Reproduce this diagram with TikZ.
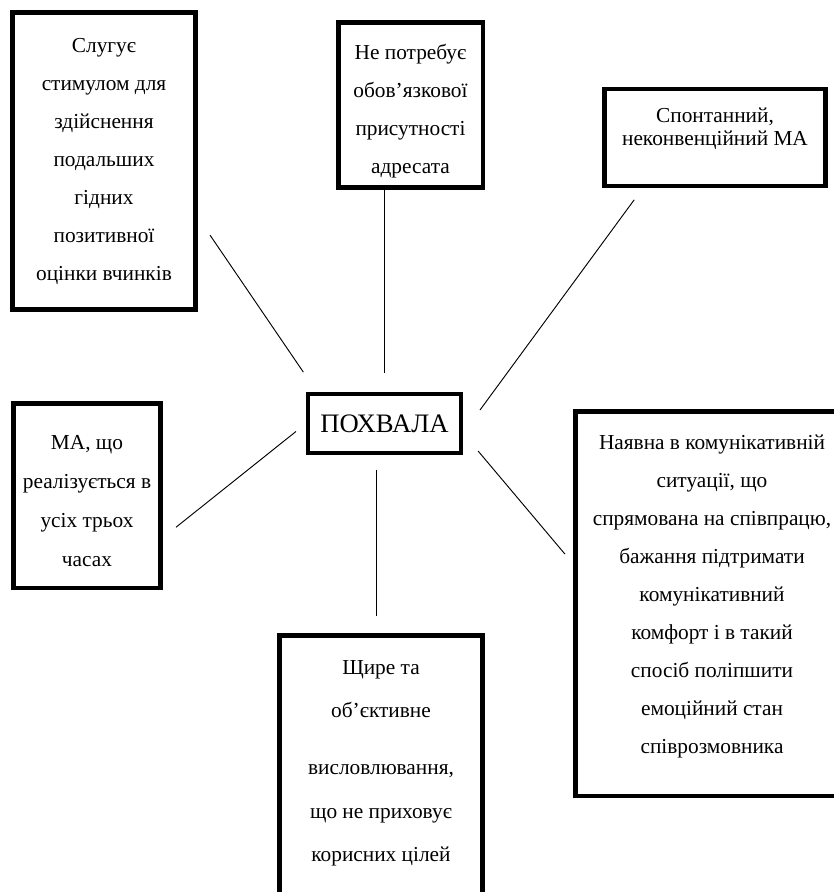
\documentclass[tikz,border=0pt]{standalone}
\usepackage{fontspec}
\setmainfont{Liberation Serif}
\usetikzlibrary{positioning}

\begin{document}
\begin{tikzpicture}[x=0.75pt,y=-0.75pt,
		box/.style={draw, line width=3.4pt, align=center, inner sep=0pt,
			font=\fontsize{16pt}{28.5pt}\selectfont},
		link/.style={line width=0.7pt}]
		\useasboundingbox (0,0) rectangle (833,892);
		% centre
		\node[box, line width=3pt, minimum width=114.8pt, minimum height=44.3pt,
			font=\fontsize{20pt}{22pt}\selectfont] (praise) at (384.5,423.5) {ПОХВАЛА};
		% boxes round it
		\node[box, minimum width=137.6pt, minimum height=223.1pt] (stimul) at (104,161)
			{Слугує\\стимулом для\\здійснення\\подальших\\гідних\\позитивної\\оцінки вчинків};
		\node[box, minimum width=108.4pt, minimum height=124.1pt] (addressee) at (410.5,105)
			{\rule{0pt}{20pt}Не потребує\\обов’язкової\\присутності\\адресата};
		\node[box, minimum width=166.1pt, minimum height=72.4pt,
			font=\fontsize{16pt}{17.5pt}\selectfont] (spont) at (715,137.5)
			{Спонтанний,\\неконвенційний МА\rule[-16pt]{0pt}{0pt}};
		\node[box, minimum width=110.6pt, minimum height=138.4pt,
			font=\fontsize{16pt}{29.3pt}\selectfont] (tense) at (87,495.5)
			{\rule{0pt}{19pt}МА, що\\реалізується в\\усіх трьох\\часах};
		\node[box, minimum width=205.1pt, minimum height=288.4pt] (coop) at (712,603.5)
			{Наявна в комунікативній\\ситуації, що\\спрямована на співпрацю,\\бажання підтримати\\комунікативний\\комфорт і в такий\\спосіб поліпшити\\емоційний стан\\співрозмовника\rule[-14pt]{0pt}{0pt}};
		\node[box, minimum width=152.6pt, minimum height=200.6pt,
			font=\fontsize{16pt}{32.3pt}\selectfont] (sincere) at (381,769)
			{Щире та\\об’єктивне\\[10.5pt]висловлювання,\\що не приховує\\корисних цілей\rule[-12pt]{0pt}{0pt}};
		%
		\draw[link, shorten <=16pt, shorten >=18pt] (stimul.-31.7) -- (praise.155.3);
		\draw[link, shorten >=14pt] (addressee.253.9) -- (addressee.253.9 |- praise.north);
		\draw[link, shorten <=11pt, shorten >=21.5pt] (spont.-145) -- (praise.-7);
		\draw[link, shorten <=12.5pt, shorten >=9.6pt] (tense.-29.5) -- (praise.west);
		\draw[link, shorten <=11pt, shorten >=12.7pt] (praise.256.6) -- (praise.256.6 |- sincere.north);
		\draw[link, shorten <=17.5pt, shorten >=9.4pt] (praise.-7.7) -- (coop.164.75);
\end{tikzpicture}
\end{document}
